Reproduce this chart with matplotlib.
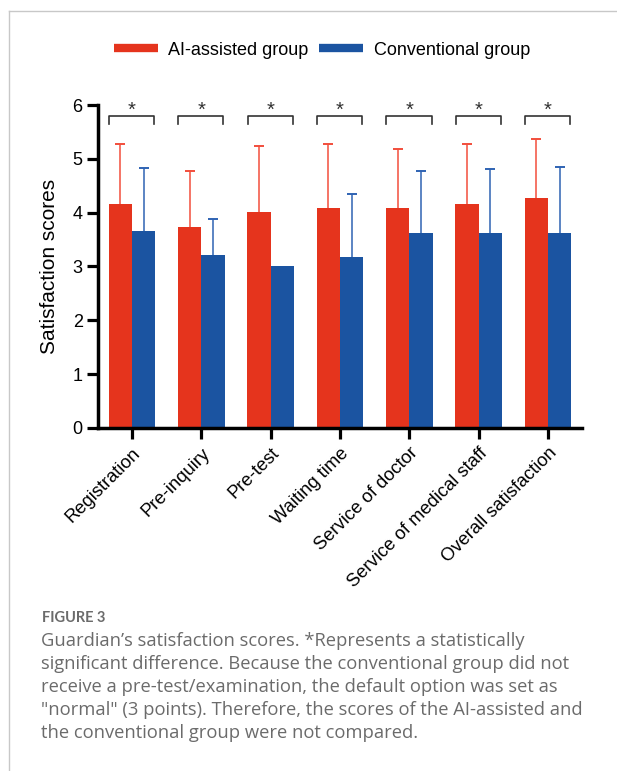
import matplotlib
matplotlib.use('Agg')
import matplotlib.pyplot as plt
from matplotlib.lines import Line2D
import numpy as np

plt.rcParams['font.family'] = ['Liberation Sans', 'DejaVu Sans']

# data
categories = ['Registration', 'Pre-inquiry', 'Pre-test', 'Waiting time',
              'Service of doctor', 'Service of medical staff', 'Overall satisfaction']
ai_mean = [4.16, 3.74, 4.01, 4.08, 4.08, 4.17, 4.27]
ai_sd = [1.12, 1.04, 1.23, 1.20, 1.11, 1.11, 1.10]
conv_mean = [3.66, 3.21, 3.00, 3.18, 3.63, 3.62, 3.63]
conv_sd = [1.17, 0.67, 0.00, 1.16, 1.15, 1.19, 1.21]
significant = [True, True, True, True, True, True, True]

red = '#E5341D'
blue = '#1B54A1'
red_err = '#F24E3C'
blue_err = '#2F63B3'

fig = plt.figure(figsize=(6.17, 7.71), dpi=100)
ax = fig.add_axes([0.1588, 0.4449, 0.7845, 0.4189])

x = np.arange(len(categories))
w = 0.335
ax.bar(x - w / 2, ai_mean, w, color=red, zorder=2)
ax.bar(x + w / 2, conv_mean, w, color=blue, zorder=2)


def upper_errorbars(xpos, mean, sd, color):
    # only the upper half of the SD bar, skip groups without spread
    xpos, mean, sd = np.asarray(xpos), np.asarray(mean), np.asarray(sd)
    keep = sd > 0
    eb = ax.errorbar(xpos[keep], mean[keep], yerr=[np.zeros(keep.sum()), sd[keep]],
                     fmt='none', ecolor=color, elinewidth=1.1, capsize=3.3,
                     capthick=1.4, zorder=1)
    eb[1][0].set_visible(False)


upper_errorbars(x - w / 2, ai_mean, ai_sd, red_err)
upper_errorbars(x + w / 2, conv_mean, conv_sd, blue_err)

# significance brackets
for xi, sig in zip(x, significant):
    if not sig:
        continue
    ax.plot([xi - 0.33, xi - 0.33, xi + 0.32, xi + 0.32], [5.65, 5.79, 5.79, 5.65],
            color='#333333', lw=1.2, clip_on=False)
    ax.text(xi, 5.9, '*', ha='center', va='center', fontsize=14.5, color='#333333')

ax.set_xlim(-0.49, 6.49)
ax.set_ylim(0, 6)
ax.set_yticks(range(7))
ax.set_xticks(x)
ax.set_xticklabels(categories, rotation=45, ha='right', va='top',
                   rotation_mode='anchor', fontsize=13.2)
ax.tick_params(axis='y', labelsize=13, length=8, width=2.3, pad=3, color='black')
ax.tick_params(axis='x', length=8, width=2.3, pad=4)

for side in ['top', 'right']:
    ax.spines[side].set_visible(False)
for side in ['left', 'bottom']:
    ax.spines[side].set_linewidth(2.5)

ax.set_ylabel('Satisfaction scores', fontsize=15)
ax.yaxis.set_label_coords(-0.08, 0.5)

handles = [Line2D([], [], color=red, lw=6, solid_capstyle='butt'),
           Line2D([], [], color=blue, lw=6, solid_capstyle='butt')]
fig.legend(handles, ['AI-assisted group', 'Conventional group'], loc='center',
           bbox_to_anchor=(0.522, 0.935), ncol=2, frameon=False, fontsize=13,
           handlelength=2.4, handletextpad=0.6, columnspacing=0.6)

# panel frame (top and left rules)
fig.add_artist(Line2D([9 / 617, 9 / 617], [0, 1 - 11 / 771], color='#c8c8c8', lw=1,
                      transform=fig.transFigure))
fig.add_artist(Line2D([9 / 617, 1], [1 - 11 / 771, 1 - 11 / 771], color='#c8c8c8', lw=1,
                      transform=fig.transFigure))

# caption
fig.text(42 / 617, 1 - 618 / 771, 'FIGURE 3', fontsize=10.5, fontweight='bold',
         color='#6b6b6b', family='Lato', va='center')
caption = ("Guardian\u2019s satisfaction scores. *Represents a statistically\n"
           "significant difference. Because the conventional group did not\n"
           "receive a pre-test/examination, the default option was set as\n"
           "\"normal\" (3 points). Therefore, the scores of the AI-assisted and\n"
           "the conventional group were not compared.")
fig.text(41 / 617, 1 - 632 / 771, caption, fontsize=13.2, color='#6b6b6b',
         family='Open Sans', va='top', linespacing=1.35)

fig.savefig('out.png', dpi=100)
